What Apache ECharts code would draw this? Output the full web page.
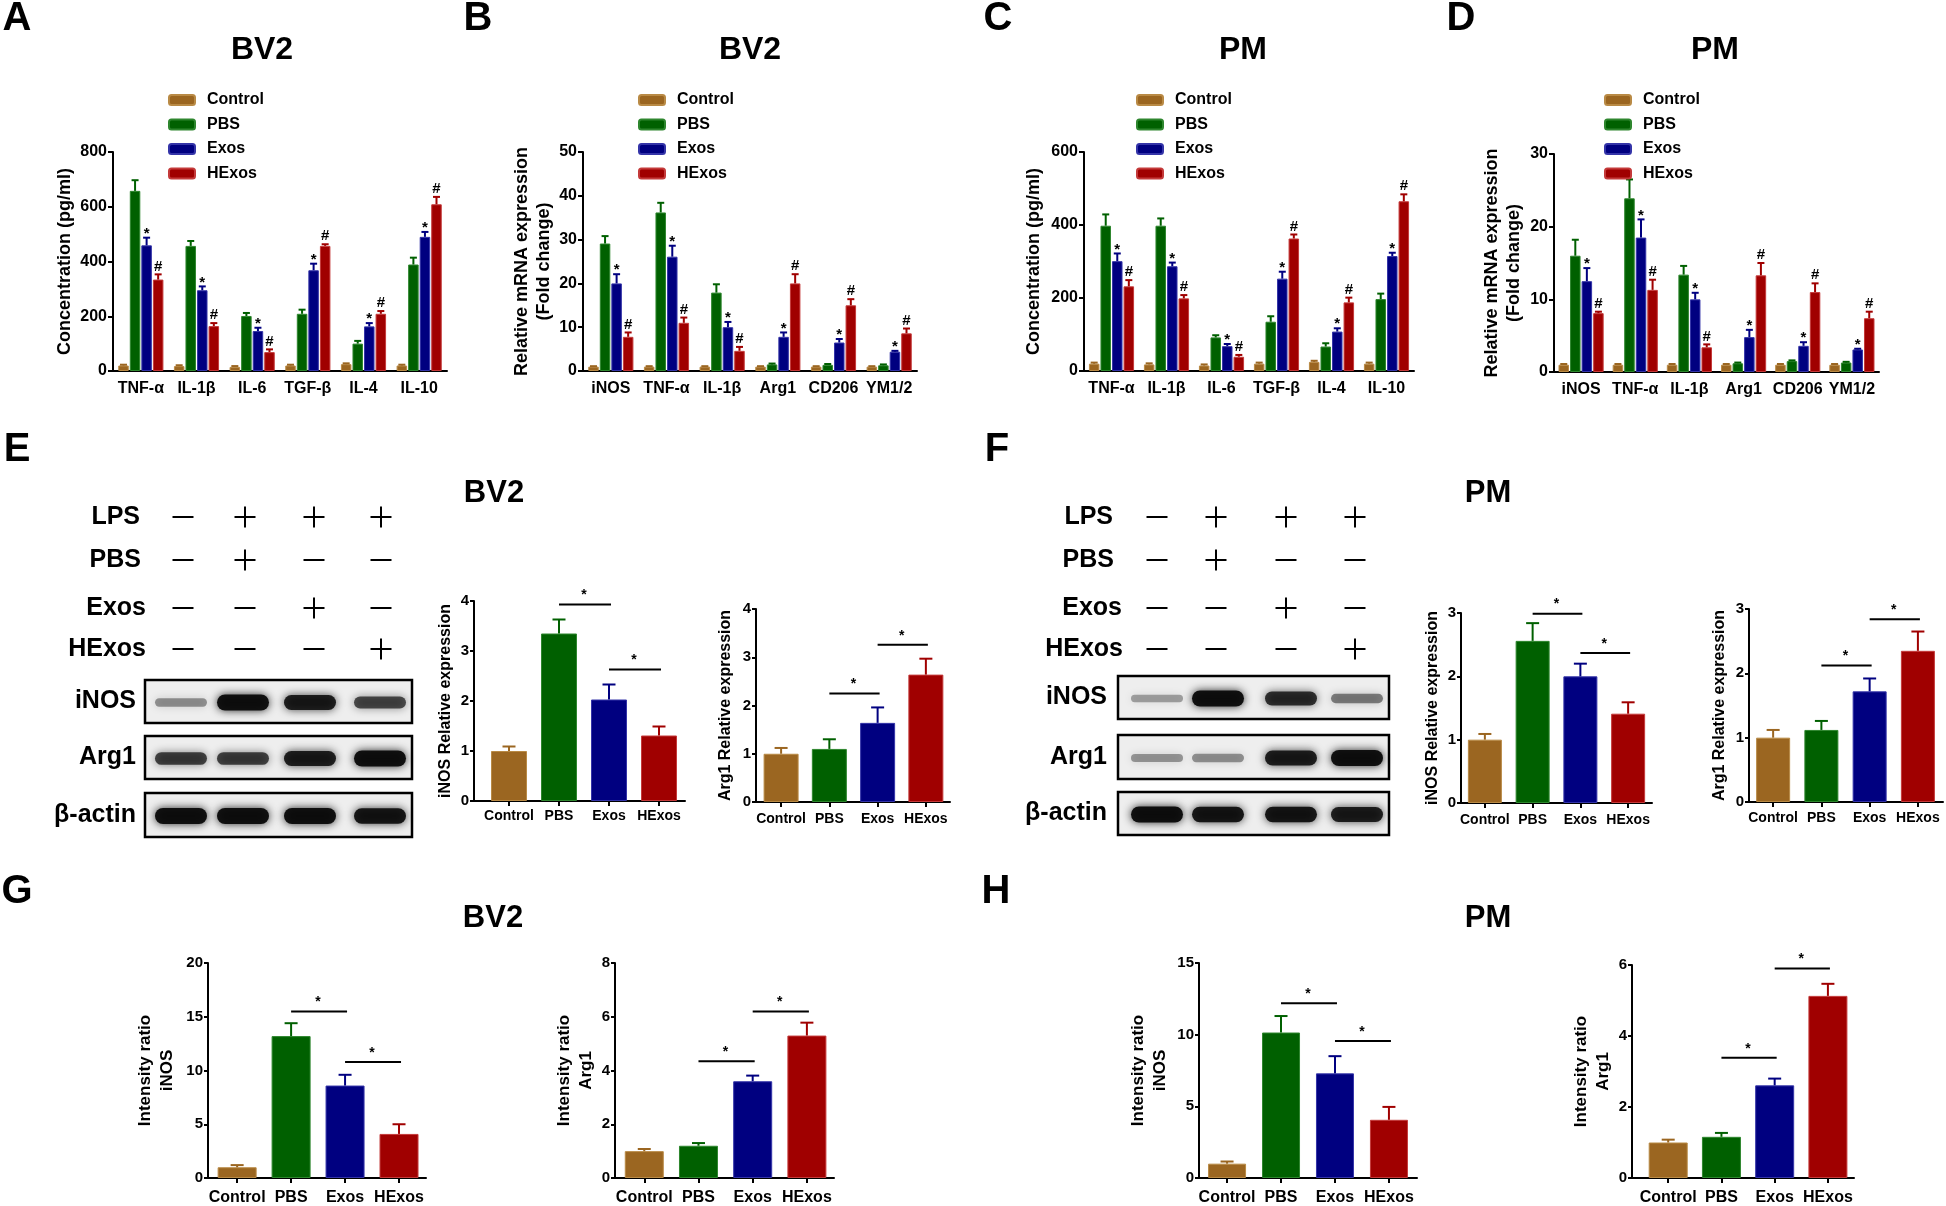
<!DOCTYPE html>
<html>
<head>
<meta charset="utf-8">
<title>BV2 / PM</title>
<script src="https://cdn.jsdelivr.net/npm/echarts@6.0.0/dist/echarts.min.js"></script>
<style>
  html, body { margin: 0; padding: 0; background: #fff; }
  #main { width: 1946px; height: 1206px; }
</style>
</head>
<body>
<div id="main"></div>
<script>
// groups
const groups = ['Control', 'PBS', 'Exos', 'HExos'];
const groupColors = ['#9b6621', '#006000', '#000080', '#a00000'];
const groupEdges = ['#b98a45', '#2e862e', '#3434a8', '#c43a3a'];
const groupMarks = ['', '', '*', '#'];

// A - BV2 cytokines (pg/ml)
const cytokines = ['TNF-α', 'IL-1β', 'IL-6', 'TGF-β', 'IL-4', 'IL-10'];
const bv2CtrlConc = [20, 18, 15, 20, 25, 20];
const bv2CtrlConcErr = [3, 3, 3, 3, 3, 3];
const bv2PbsConc = [658, 457, 201, 209, 100, 389];
const bv2PbsConcErr = [39, 18, 11, 15, 10, 25];
const bv2ExosConc = [459, 295, 146, 368, 163, 490];
const bv2ExosConcErr = [28, 14, 12, 24, 12, 18];
const bv2HexosConc = [334, 164, 69, 457, 209, 609];
const bv2HexosConcErr = [19, 11, 10, 6, 10, 27];

// B - BV2 mRNA (fold change)
const genes = ['iNOS', 'TNF-α', 'IL-1β', 'Arg1', 'CD206', 'YM1/2'];
const bv2CtrlMrna = [1, 1, 1, 1, 1, 1];
const bv2CtrlMrnaErr = [0.1, 0.1, 0.1, 0.1, 0.1, 0.1];
const bv2PbsMrna = [29.1, 36.2, 17.9, 1.5, 1.4, 1.3];
const bv2PbsMrnaErr = [1.7, 2.2, 1.9, 0.2, 0.2, 0.2];
const bv2ExosMrna = [20.0, 26.1, 10.0, 7.8, 6.5, 4.4];
const bv2ExosMrnaErr = [2.1, 2.5, 1.2, 1.0, 0.8, 0.2];
const bv2HexosMrna = [7.8, 11.0, 4.6, 20.0, 15.0, 8.6];
const bv2HexosMrnaErr = [1.0, 1.2, 0.9, 2.1, 1.4, 1.1];

// C - PM cytokines (pg/ml)
const pmCtrlConc = [20, 18, 15, 20, 25, 20];
const pmCtrlConcErr = [3, 3, 3, 3, 3, 3];
const pmPbsConc = [398, 398, 92, 135, 67, 197];
const pmPbsConcErr = [31, 20, 6, 15, 9, 15];
const pmExosConc = [301, 287, 68, 253, 108, 315];
const pmExosConcErr = [21, 10, 6, 19, 9, 9];
const pmHexosConc = [232, 199, 39, 363, 188, 465];
const pmHexosConcErr = [17, 9, 5, 11, 13, 19];

// D - PM mRNA (fold change)
const pmCtrlMrna = [1, 1, 1, 1, 1, 1];
const pmCtrlMrnaErr = [0.1, 0.1, 0.1, 0.1, 0.1, 0.1];
const pmPbsMrna = [16.0, 23.9, 13.4, 1.2, 1.5, 1.3];
const pmPbsMrnaErr = [2.2, 2.6, 1.2, 0.1, 0.1, 0.1];
const pmExosMrna = [12.5, 18.5, 10.0, 4.8, 3.6, 3.1];
const pmExosMrnaErr = [1.8, 2.5, 0.9, 1.0, 0.5, 0.1];
const pmHexosMrna = [8.1, 11.3, 3.4, 13.3, 11.0, 7.4];
const pmHexosMrnaErr = [0.2, 1.4, 0.4, 1.7, 1.2, 0.9];

// E-H small charts (Control, PBS, Exos, HExos)
const bv2WbInos = [1.0, 3.35, 2.03, 1.31];
const bv2WbInosErr = [0.09, 0.28, 0.30, 0.18];
const bv2WbInosSig = [[1, 2, 3.93], [2, 3, 2.63]];
const bv2WbArg1 = [1.0, 1.1, 1.64, 2.64];
const bv2WbArg1Err = [0.12, 0.2, 0.32, 0.33];
const bv2WbArg1Sig = [[1, 2, 2.25], [2, 3, 3.26]];
const pmWbInos = [1.0, 2.56, 2.0, 1.41];
const pmWbInosErr = [0.09, 0.28, 0.2, 0.18];
const pmWbInosSig = [[1, 2, 2.99], [2, 3, 2.37]];
const pmWbArg1 = [1.0, 1.12, 1.72, 2.35];
const pmWbArg1Err = [0.12, 0.14, 0.2, 0.3];
const pmWbArg1Sig = [[1, 2, 2.12], [2, 3, 2.84]];
const bv2IfInos = [1.0, 13.2, 8.6, 4.1];
const bv2IfInosErr = [0.2, 1.2, 1.0, 0.9];
const bv2IfInosSig = [[1, 2, 15.5], [2, 3, 10.8]];
const bv2IfArg1 = [1.0, 1.2, 3.6, 5.3];
const bv2IfArg1Err = [0.08, 0.1, 0.21, 0.48];
const bv2IfArg1Sig = [[1, 2, 4.34], [2, 3, 6.2]];
const pmIfInos = [1.0, 10.15, 7.3, 4.06];
const pmIfInosErr = [0.15, 1.15, 1.2, 0.9];
const pmIfInosSig = [[1, 2, 12.2], [2, 3, 9.55]];
const pmIfArg1 = [1.0, 1.16, 2.61, 5.13];
const pmIfArg1Err = [0.08, 0.11, 0.19, 0.34];
const pmIfArg1Sig = [[1, 2, 3.39], [2, 3, 5.9]];

// western blot treatment table and band strength (0..1)
const treatRows = ['LPS', 'PBS', 'Exos', 'HExos'];
const treatSigns = [[0, 1, 1, 1], [0, 1, 0, 0], [0, 0, 1, 0], [0, 0, 0, 1]];
const blotRows = ['iNOS', 'Arg1', 'β-actin'];
const bv2Bands = [[0.3, 1.0, 0.9, 0.65], [0.7, 0.7, 0.9, 1.0], [1.0, 1.0, 1.0, 0.95]];
const pmBands = [[0.22, 1.0, 0.8, 0.4], [0.28, 0.3, 0.9, 1.0], [1.0, 0.95, 0.95, 0.9]];

const FONT = 'Liberation Sans';
const grids = [], xAxes = [], yAxes = [], series = [], legends = [], graphics = [];
const BAR_W = 10.5, BAR_PITCH = 10.5 * 1.1;

function groupedErr(k) {
  return function (params, api) {
    const b = api.coord([api.value(0), api.value(1)]);
    const t = api.coord([api.value(0), api.value(1) + api.value(2)]);
    const x = b[0] + (k - 1.5) * BAR_PITCH;
    const col = groupColors[k];
    const kids = [
      { type: 'line', shape: { x1: x, y1: b[1], x2: x, y2: t[1] }, style: { stroke: col, lineWidth: 2 } },
      { type: 'line', shape: { x1: x - 3.5, y1: t[1], x2: x + 3.5, y2: t[1] }, style: { stroke: col, lineWidth: 2 } }
    ];
    const m = groupMarks[k];
    if (m) {
      kids.push({ type: 'text', x: x, y: t[1] - (m === '*' ? 4 : 8),
        style: { text: m, font: 'bold 15px ' + FONT, fill: '#000', align: 'center', verticalAlign: 'middle' } });
    }
    return { type: 'group', children: kids };
  };
}

function addGrouped(p) {
  const gi = grids.length;
  grids.push({ left: p.left, top: p.top, width: p.width, height: p.height });
  xAxes.push({
    gridIndex: gi, type: 'category', data: p.cats,
    axisLine: { lineStyle: { color: '#000', width: 2 } },
    axisTick: { alignWithLabel: true, length: 5, lineStyle: { color: '#000', width: 2 } },
    axisLabel: { interval: 0, margin: 10, color: '#000', fontSize: 16, fontWeight: 'bold', fontFamily: FONT }
  });
  yAxes.push({
    gridIndex: gi, type: 'value', min: 0, max: p.max, interval: p.interval,
    name: p.yName, nameLocation: 'middle', nameGap: p.nameGap,
    nameTextStyle: { color: '#000', fontSize: 18, fontWeight: 'bold', fontFamily: FONT, lineHeight: 22 },
    axisLine: { show: true, onZero: false, lineStyle: { color: '#000', width: 2 } },
    axisTick: { show: true, length: 5, lineStyle: { color: '#000', width: 2 } },
    axisLabel: { margin: 6, color: '#000', fontSize: 16, fontWeight: 'bold', fontFamily: FONT },
    splitLine: { show: false }
  });
  p.values.forEach(function (vals, k) {
    series.push({
      type: 'bar', name: groups[k], xAxisIndex: gi, yAxisIndex: gi, data: vals,
      barWidth: BAR_W, barGap: '10%', silent: true,
      itemStyle: { color: groupColors[k], borderColor: groupEdges[k], borderWidth: 1 }
    });
    series.push({
      type: 'custom', name: 'err', xAxisIndex: gi, yAxisIndex: gi, silent: true, z: 3,
      data: vals.map(function (v, i) { return [i, v, p.errs[k][i]]; }),
      encode: { x: 0, y: 1 },
      renderItem: groupedErr(k)
    });
  });
  legends.push({
    data: groups, orient: 'vertical', left: p.legendLeft, top: 87,
    itemWidth: 26, itemHeight: 10, itemGap: 8.5, icon: 'roundRect', selectedMode: false,
    textStyle: { color: '#000', fontSize: 16, fontWeight: 'bold', fontFamily: FONT, padding: [0, 0, 0, 7] }
  });
}

function smallErr(params, api) {
  const i = api.value(0);
  const b = api.coord([i, api.value(1)]);
  const t = api.coord([i, api.value(1) + api.value(2)]);
  const col = groupColors[i];
  return { type: 'group', children: [
    { type: 'line', shape: { x1: b[0], y1: b[1], x2: b[0], y2: t[1] }, style: { stroke: col, lineWidth: 2 } },
    { type: 'line', shape: { x1: b[0] - 6.5, y1: t[1], x2: b[0] + 6.5, y2: t[1] }, style: { stroke: col, lineWidth: 2 } }
  ] };
}

function sigRender(params, api) {
  const a = api.coord([api.value(0), api.value(2)]);
  const b = api.coord([api.value(1), api.value(2)]);
  return { type: 'group', children: [
    { type: 'line', shape: { x1: a[0], y1: a[1], x2: b[0] + 2, y2: b[1] }, style: { stroke: '#000', lineWidth: 2 } },
    { type: 'text', x: (a[0] + b[0]) / 2, y: a[1] - 9,
      style: { text: '*', font: 'bold 14px ' + FONT, fill: '#000', align: 'center', verticalAlign: 'middle' } }
  ] };
}

function addSmall(p) {
  const gi = grids.length;
  grids.push({ left: p.left, top: p.top, width: p.width, height: p.height });
  xAxes.push({
    gridIndex: gi, type: 'value', min: p.xMin, max: p.xMax,
    axisLine: { onZero: false, lineStyle: { color: '#000', width: 2 } },
    axisTick: { show: true, customValues: [0, 1, 2, 3], length: 5, lineStyle: { color: '#000', width: 2 } },
    axisLabel: { customValues: [0, 1, 2, 3], formatter: function (v) { return groups[v]; },
      margin: p.catMargin, color: '#000', fontSize: p.catSize, fontWeight: 'bold', fontFamily: FONT },
    splitLine: { show: false }
  });
  yAxes.push({
    gridIndex: gi, type: 'value', min: 0, max: p.max, interval: p.interval,
    name: p.yName, nameLocation: 'middle', nameGap: p.nameGap,
    nameTextStyle: { color: '#000', fontSize: p.nameSize, fontWeight: 'bold', fontFamily: FONT, lineHeight: 22 },
    axisLine: { show: true, onZero: false, lineStyle: { color: '#000', width: 2 } },
    axisTick: { show: true, length: 4, lineStyle: { color: '#000', width: 2 } },
    axisLabel: { margin: 5, color: '#000', fontSize: 15, fontWeight: 'bold', fontFamily: FONT },
    splitLine: { show: false }
  });
  series.push({
    type: 'bar', xAxisIndex: gi, yAxisIndex: gi, barWidth: p.barWidth, silent: true,
    data: p.values.map(function (v, i) {
      return { value: [i, v], itemStyle: { color: groupColors[i], borderColor: groupEdges[i], borderWidth: 1 } };
    })
  });
  series.push({
    type: 'custom', xAxisIndex: gi, yAxisIndex: gi, silent: true, z: 3,
    data: p.values.map(function (v, i) { return [i, v, p.errs[i]]; }),
    encode: { x: 0, y: 1 }, renderItem: smallErr
  });
  series.push({
    type: 'custom', xAxisIndex: gi, yAxisIndex: gi, silent: true, z: 3,
    data: p.sig, encode: { x: [0, 1], y: 2 }, renderItem: sigRender
  });
}

function text(str, x, y, size, align) {
  graphics.push({ type: 'text', x: x, y: y, silent: true,
    style: { text: str, font: 'bold ' + size + 'px ' + FONT, fill: '#000', align: align || 'center', verticalAlign: 'middle' } });
}

function addTable(labelRight, cols, rowY) {
  treatRows.forEach(function (r, ri) {
    text(r, labelRight[ri], rowY[ri], 25, 'right');
    treatSigns[ri].forEach(function (s, ci) {
      const x = cols[ci], y = rowY[ri];
      graphics.push({ type: 'line', silent: true, shape: { x1: x - 10.5, y1: y, x2: x + 10.5, y2: y }, style: { stroke: '#000', lineWidth: 2 } });
      if (s) graphics.push({ type: 'line', silent: true, shape: { x1: x, y1: y - 10.5, x2: x, y2: y + 10.5 }, style: { stroke: '#000', lineWidth: 2 } });
    });
  });
}

function addBlots(labelRight, x0, x1, boxes, lanes, bands) {
  blotRows.forEach(function (name, ri) {
    const y0 = boxes[ri][0], y1 = boxes[ri][1];
    text(name, labelRight, (y0 + y1) / 2, 25, 'right');
    graphics.push({ type: 'rect', silent: true, shape: { x: x0, y: y0, width: x1 - x0, height: y1 - y0 },
      style: { fill: '#eeeeee', stroke: '#000', lineWidth: 2.5 } });
    const cy = (y0 + y1) / 2 + 1;
    lanes.forEach(function (lx, k) {
      const a = bands[ri][k];
      const h = 5 + 11 * a;
      graphics.push({ type: 'rect', silent: true,
        shape: { x: lx - 26, y: cy - h / 2, width: 52, height: h, r: h / 2 },
        style: { fill: 'rgba(10,10,10,' + (0.15 + 0.8 * a).toFixed(2) + ')', shadowBlur: 9,
          shadowColor: 'rgba(10,10,10,' + (0.15 + 0.75 * a).toFixed(2) + ')' } });
    });
  });
}

// panels A-D
addGrouped({ cats: cytokines, left: 113, top: 152, width: 334, height: 219, max: 800, interval: 200,
  yName: 'Concentration (pg/ml)', nameGap: 36, legendLeft: 163,
  values: [bv2CtrlConc, bv2PbsConc, bv2ExosConc, bv2HexosConc],
  errs: [bv2CtrlConcErr, bv2PbsConcErr, bv2ExosConcErr, bv2HexosConcErr] });
addGrouped({ cats: genes, left: 583, top: 152, width: 334, height: 219, max: 50, interval: 10,
  yName: 'Relative mRNA expression\n(Fold change)', nameGap: 27, legendLeft: 633,
  values: [bv2CtrlMrna, bv2PbsMrna, bv2ExosMrna, bv2HexosMrna],
  errs: [bv2CtrlMrnaErr, bv2PbsMrnaErr, bv2ExosMrnaErr, bv2HexosMrnaErr] });
addGrouped({ cats: cytokines, left: 1084, top: 152, width: 330, height: 219, max: 600, interval: 200,
  yName: 'Concentration (pg/ml)', nameGap: 39, legendLeft: 1131,
  values: [pmCtrlConc, pmPbsConc, pmExosConc, pmHexosConc],
  errs: [pmCtrlConcErr, pmPbsConcErr, pmExosConcErr, pmHexosConcErr] });
addGrouped({ cats: genes, left: 1554, top: 154, width: 325, height: 218, max: 30, interval: 10,
  yName: 'Relative mRNA expression\n(Fold change)', nameGap: 29, legendLeft: 1599,
  values: [pmCtrlMrna, pmPbsMrna, pmExosMrna, pmHexosMrna],
  errs: [pmCtrlMrnaErr, pmPbsMrnaErr, pmExosMrnaErr, pmHexosMrnaErr] });

// panels E-H charts
addSmall({ left: 474, top: 601, width: 211, height: 200, xMin: -0.7, xMax: 3.52, max: 4, interval: 1, barWidth: 36,
  yName: 'iNOS Relative expression', nameGap: 5, nameSize: 16, catSize: 14, catMargin: 8,
  values: bv2WbInos, errs: bv2WbInosErr, sig: bv2WbInosSig });
addSmall({ left: 756, top: 609, width: 194, height: 193, xMin: -0.52, xMax: 3.5, max: 4, interval: 1, barWidth: 35,
  yName: 'Arg1 Relative expression', nameGap: 19, nameSize: 16, catSize: 14, catMargin: 10,
  values: bv2WbArg1, errs: bv2WbArg1Err, sig: bv2WbArg1Sig });
addSmall({ left: 1461, top: 613, width: 191, height: 190, xMin: -0.5, xMax: 3.5, max: 3, interval: 1, barWidth: 34,
  yName: 'iNOS Relative expression', nameGap: 15, nameSize: 16, catSize: 14, catMargin: 10,
  values: pmWbInos, errs: pmWbInosErr, sig: pmWbInosSig });
addSmall({ left: 1749, top: 609, width: 194, height: 193, xMin: -0.5, xMax: 3.52, max: 3, interval: 1, barWidth: 34,
  yName: 'Arg1 Relative expression', nameGap: 18, nameSize: 16, catSize: 14, catMargin: 9,
  values: pmWbArg1, errs: pmWbArg1Err, sig: pmWbArg1Sig });
addSmall({ left: 208, top: 963, width: 218, height: 216, xMin: -0.54, xMax: 3.5, max: 20, interval: 5, barWidth: 39,
  yName: 'Intensity ratio\niNOS', nameGap: 30, nameSize: 17, catSize: 16, catMargin: 12,
  values: bv2IfInos, errs: bv2IfInosErr, sig: bv2IfInosSig });
addSmall({ left: 615, top: 963, width: 219, height: 217, xMin: -0.54, xMax: 3.5, max: 8, interval: 2, barWidth: 39,
  yName: 'Intensity ratio\nArg1', nameGap: 17, nameSize: 17, catSize: 16, catMargin: 12,
  values: bv2IfArg1, errs: bv2IfArg1Err, sig: bv2IfArg1Sig });
addSmall({ left: 1199, top: 963, width: 218, height: 216, xMin: -0.52, xMax: 3.52, max: 15, interval: 5, barWidth: 38,
  yName: 'Intensity ratio\niNOS', nameGap: 28, nameSize: 17, catSize: 16, catMargin: 12,
  values: pmIfInos, errs: pmIfInosErr, sig: pmIfInosSig });
addSmall({ left: 1632, top: 965, width: 222, height: 214, xMin: -0.68, xMax: 3.49, max: 6, interval: 2, barWidth: 39,
  yName: 'Intensity ratio\nArg1', nameGap: 11, nameSize: 17, catSize: 16, catMargin: 12,
  values: pmIfArg1, errs: pmIfArg1Err, sig: pmIfArg1Sig });

// panel letters and titles
[['A', 17, 19], ['B', 478, 19], ['C', 998, 19], ['D', 1461, 19],
 ['E', 17, 450], ['F', 997, 450], ['G', 17, 892], ['H', 996, 892]].forEach(function (l) { text(l[0], l[1], l[2], 40); });
[['BV2', 262, 50], ['BV2', 750, 50], ['PM', 1243, 50], ['PM', 1715, 50]].forEach(function (t) { text(t[0], t[1], t[2], 32); });
[['BV2', 494, 493], ['PM', 1488, 493], ['BV2', 493, 918], ['PM', 1488, 918]].forEach(function (t) { text(t[0], t[1], t[2], 31); });

// western blot tables
const rowY = [517, 560, 608, 649];
addTable([140, 141, 146, 146], [183, 245, 314, 381], rowY);
addTable([1113, 1114, 1122, 1123], [1157, 1216, 1286, 1355], rowY);
addBlots(136, 145, 412, [[680, 723], [736, 779], [793, 837]], [181, 243, 310, 380], bv2Bands);
addBlots(1107, 1118, 1389, [[676, 719], [735, 779], [792, 835]], [1157, 1218, 1291, 1357], pmBands);

const chart = echarts.init(document.getElementById('main'), null, { renderer: 'canvas' });
chart.setOption({
  backgroundColor: '#fff',
  animation: false,
  textStyle: { fontFamily: FONT },
  grid: grids,
  xAxis: xAxes,
  yAxis: yAxes,
  legend: legends,
  series: series,
  graphic: graphics
});
</script>
</body>
</html>
